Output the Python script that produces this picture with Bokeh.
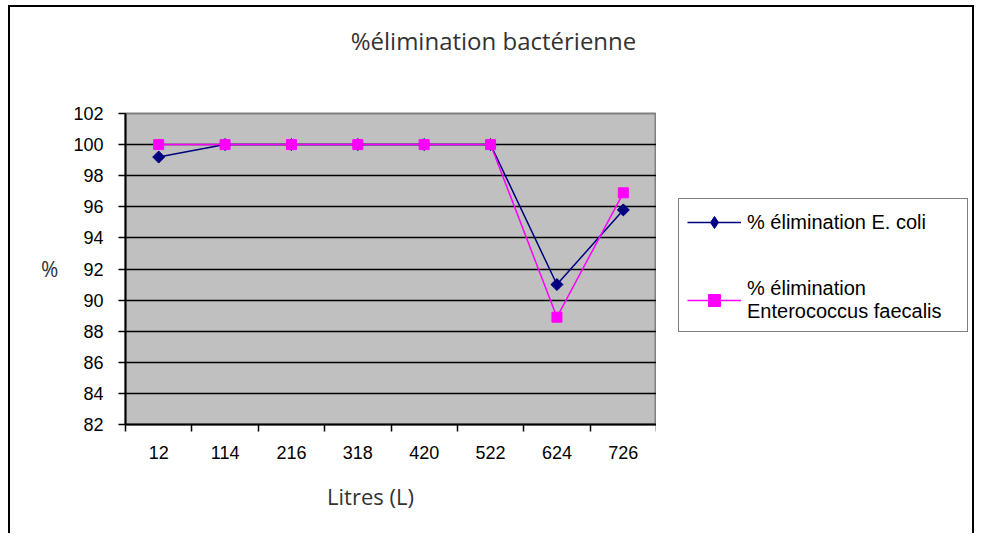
from bokeh.plotting import figure
from bokeh.layouts import column, row
from bokeh.models import Range1d, FixedTicker, Legend, LegendItem, Label
from bokeh.embed import file_html
from bokeh.resources import INLINE

# ---- data ----
litres = ["12", "114", "216", "318", "420", "522", "624", "726"]
ecoli = [99.2, 100, 100, 100, 100, 100, 91.0, 95.8]
entero = [100, 100, 100, 100, 100, 100, 88.9, 96.9]
y_ticks = [82, 84, 86, 88, 90, 92, 94, 96, 98, 100, 102]
title_text = "%élimination bactérienne"
x_title = "Litres (L)"
y_title = "%"
name_ecoli = "% élimination E. coli"
name_entero = "% élimination\nEnterococcus faecalis"

NAVY = "#000080"
MAGENTA = "#FF00FF"
FONT = "Liberation Sans"
TFONT = "Open Sans"

n = len(litres)
xs = [i + 0.5 for i in range(n)]

TOTAL_W = 962
TITLE_H = 60
BODY_H = 409
FOOT_H = 57
PLOT_W = 646


def strip(h):
    s = figure(width=TOTAL_W, height=h, output_backend="svg",
               toolbar_location=None, x_axis_type=None, y_axis_type=None,
               x_range=Range1d(0, TOTAL_W), y_range=Range1d(0, h),
               min_border=0)
    s.outline_line_color = None
    s.grid.visible = False
    return s


# ---- title strip ----
pt = strip(TITLE_H)
pt.add_layout(Label(x=483, y=TITLE_H - 33, text=title_text,
                    text_align="center", text_baseline="middle",
                    text_font=TFONT, text_font_size="24px",
                    text_color="#333333"))

# ---- main chart ----
p = figure(width=PLOT_W, height=BODY_H, output_backend="svg",
           toolbar_location=None,
           x_range=Range1d(0, n), y_range=Range1d(y_ticks[0], y_ticks[-1]),
           min_border_left=115, min_border_right=0,
           min_border_top=46, min_border_bottom=52)
p.background_fill_color = "#C0C0C0"
p.border_fill_color = "white"
p.outline_line_color = "#808080"
p.outline_line_width = 2

# x axis
p.xaxis.ticker = FixedTicker(ticks=xs, minor_ticks=list(range(n + 1)))
p.xaxis.major_label_overrides = {x: lab for x, lab in zip(xs, litres)}
p.xaxis.major_tick_line_color = None
p.xaxis.major_tick_out = 0
p.xaxis.major_tick_in = 0
p.xaxis.minor_tick_line_color = "black"
p.xaxis.minor_tick_line_width = 1.5
p.xaxis.minor_tick_out = 7
p.xaxis.minor_tick_in = 0
p.xaxis.axis_line_color = "black"
p.xaxis.axis_line_width = 2
p.xaxis.major_label_text_font = FONT
p.xaxis.major_label_text_font_size = "18px"
p.xaxis.major_label_text_color = "black"
p.xaxis.major_label_standoff = 14

# y axis
p.yaxis.ticker = FixedTicker(ticks=y_ticks)
p.yaxis.minor_tick_line_color = None
p.yaxis.major_tick_line_color = "black"
p.yaxis.major_tick_line_width = 1.5
p.yaxis.major_tick_out = 7
p.yaxis.major_tick_in = 0
p.yaxis.axis_line_color = "black"
p.yaxis.axis_line_width = 2
p.yaxis.major_label_text_font = FONT
p.yaxis.major_label_text_font_size = "18px"
p.yaxis.major_label_text_color = "black"
p.yaxis.major_label_standoff = 15
p.yaxis.axis_label = y_title
p.yaxis.axis_label_orientation = "horizontal"
p.yaxis.axis_label_text_font = TFONT
p.yaxis.axis_label_text_font_style = "normal"
p.yaxis.axis_label_text_font_size = "21px"
p.yaxis.axis_label_text_color = "#333333"
p.yaxis.axis_label_standoff = 12

p.xgrid.grid_line_color = None
p.ygrid.grid_line_color = "black"
p.ygrid.grid_line_width = 1.5

# series
p.line(xs, ecoli, line_color=NAVY, line_width=1.5)
p.scatter(xs, ecoli, marker="square", angle=0.785398, size=8.5,
          fill_color=NAVY, line_color=NAVY)
p.line(xs, entero, line_color=MAGENTA, line_width=1.5)
p.scatter(xs, entero, marker="square", size=10,
          fill_color=MAGENTA, line_color=MAGENTA)

# ---- legend panel (its frame is aligned with the chart's frame) ----
pl = figure(width=TOTAL_W - PLOT_W, height=BODY_H, output_backend="svg",
            toolbar_location=None, x_axis_type=None, y_axis_type=None,
            x_range=Range1d(0, 1), y_range=Range1d(0, 1), min_border=0)
pl.outline_line_color = None
pl.grid.visible = False
# swatch renderers (kept outside the visible range; only shown in the legend)
sl1 = pl.line([-3, -2], [-3, -3], line_color=NAVY, line_width=1.5)
sm1 = pl.scatter([-3], [-3], marker="diamond", size=10,
                 fill_color=NAVY, line_color=NAVY)
sl2 = pl.line([-3, -2], [-3, -3], line_color=MAGENTA, line_width=1.5)
sm2 = pl.scatter([-3], [-3], marker="square", size=10,
                 fill_color=MAGENTA, line_color=MAGENTA)

legend = Legend(items=[LegendItem(label=name_ecoli, renderers=[sl1, sm1]),
                       LegendItem(label=name_entero, renderers=[sl2, sm2])],
                location=(22, 92))
legend.border_line_color = "black"
legend.border_line_width = 1.5
legend.background_fill_color = "white"
legend.background_fill_alpha = 1
legend.label_text_font = FONT
legend.label_text_font_size = "20px"
legend.label_text_color = "black"
legend.label_width = 212
legend.glyph_width = 54
legend.glyph_height = 30
legend.label_standoff = 6
legend.spacing = 40
legend.padding = 8
legend.margin = 0
pl.add_layout(legend, "center")

# ---- x-axis title strip ----
pb = strip(FOOT_H)
pb.add_layout(Label(x=360, y=FOOT_H - 19, text=x_title,
                    text_align="center", text_baseline="middle",
                    text_font=TFONT, text_font_size="22px",
                    text_color="#333333"))

layout = column(pt, row(p, pl, spacing=0), pb, spacing=0)
layout.styles = {"margin-left": "8px", "margin-top": "5px",
                 "border-left": "2px solid black", "border-top": "2px solid black",
                 "border-right": "2px solid black"}

open("out.html", "w").write(file_html(layout, INLINE))
